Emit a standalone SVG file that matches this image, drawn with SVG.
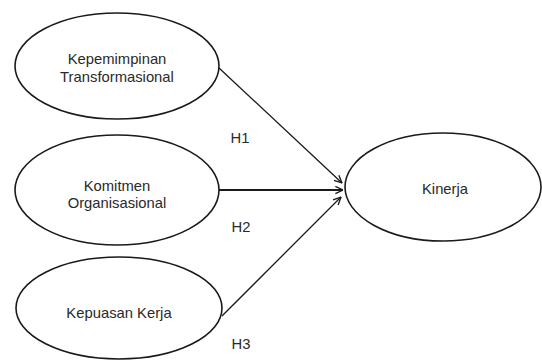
<svg xmlns="http://www.w3.org/2000/svg" width="542" height="361" viewBox="0 0 542 361">
<defs>
<style>
.node ellipse{fill:#fff;stroke:#1a1a1a;stroke-width:1.6}
text{font-family:"Liberation Sans",Arial,sans-serif;font-size:14.8px;fill:#2a2a2a;text-anchor:middle}
.conn line{stroke:#1a1a1a;stroke-width:1.3}
</style>
<marker id="arr" viewBox="0 0 10 10" refX="9.5" refY="5" markerWidth="9" markerHeight="9" markerUnits="userSpaceOnUse" orient="auto">
<path d="M1,1 L9.5,5 L1,9" fill="none" stroke="#1a1a1a" stroke-width="1.5"/>
</marker>
</defs>
<rect width="542" height="361" fill="#fff"/>
<g class="conn" id="connectors">
<line x1="219" y1="68" x2="342" y2="183" marker-end="url(#arr)"/>
<line x1="219" y1="190" x2="343" y2="190" marker-end="url(#arr)" style="stroke-width:1.9"/>
<line x1="222" y1="316" x2="341" y2="197" marker-end="url(#arr)"/>
<text x="240" y="143">H1</text>
<text x="241" y="232">H2</text>
<text x="241" y="349">H3</text>
</g>
<g class="node" id="kepemimpinan">
<ellipse cx="117" cy="66" rx="102" ry="53"/>
<text x="117" y="64">Kepemimpinan</text>
<text x="117" y="82">Transformasional</text>
</g>
<g class="node" id="komitmen">
<ellipse cx="117" cy="190" rx="102" ry="55"/>
<text x="117" y="191">Komitmen</text>
<text x="117" y="208">Organisasional</text>
</g>
<g class="node" id="kepuasan">
<ellipse cx="119" cy="308" rx="103" ry="51"/>
<text x="119" y="318">Kepuasan Kerja</text>
</g>
<g class="node" id="kinerja">
<ellipse cx="443" cy="187" rx="98" ry="54"/>
<text x="445" y="194">Kinerja</text>
</g>
</svg>
